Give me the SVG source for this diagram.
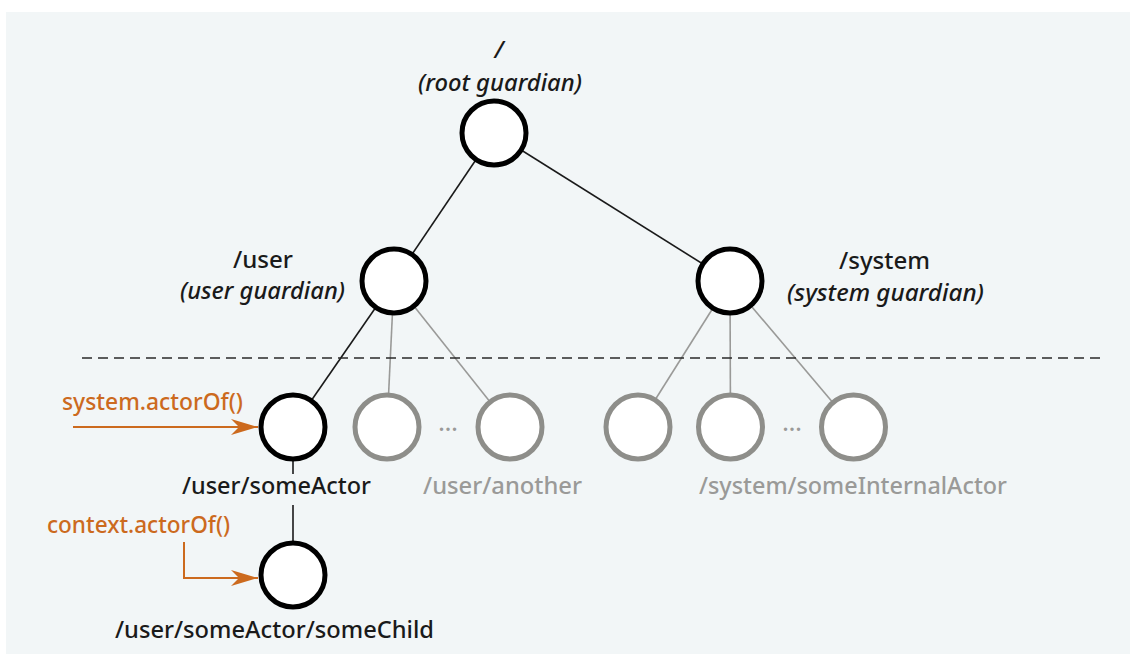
<svg xmlns="http://www.w3.org/2000/svg" width="1130" height="654" viewBox="0 0 1130 654">
<style>
.t{font-family:"Noto Sans","Liberation Sans",sans-serif;font-size:24px;font-weight:500;fill:#1a1a1a}
.i{font-style:italic}
.g{fill:#9a9a98}
.o{fill:#cc6a1e}
.n{fill:#fff;stroke:#000;stroke-width:5}
.ng{fill:#fff;stroke:#8e8e8a;stroke-width:5}
.lb{stroke:#1a1a1a;stroke-width:1.6;fill:none}
.lg{stroke:#9a9a98;stroke-width:1.6;fill:none}
.or{stroke:#cc6a1e;stroke-width:2;fill:none}
</style>
<defs>
<marker id="ah" viewBox="0 0 27 16" markerWidth="27" markerHeight="16" refX="27" refY="8" markerUnits="userSpaceOnUse" orient="auto">
<path d="M0,0 L27,8 L0,16 L8,8 z" fill="#cc6a1e"/>
</marker>
</defs>
<rect x="0" y="0" width="1130" height="654" fill="#fff"/>
<rect x="6" y="12" width="1124" height="642" fill="#f2f6f7"/>
<g id="connectors">
<line class="lb" x1="494" y1="133" x2="394" y2="281"/>
<line class="lb" x1="494" y1="133" x2="730" y2="281"/>
<line class="lb" x1="394" y1="281" x2="293" y2="427"/>
<line class="lg" x1="394" y1="281" x2="387" y2="427"/>
<line class="lg" x1="394" y1="281" x2="510" y2="427"/>
<line class="lg" x1="730" y1="281" x2="638" y2="427"/>
<line class="lg" x1="730" y1="281" x2="730.5" y2="427"/>
<line class="lg" x1="730" y1="281" x2="853.5" y2="427"/>
<line class="lb" x1="293" y1="460" x2="293" y2="474"/>
<line class="lb" x1="293" y1="505" x2="293" y2="545"/>
<line x1="82" y1="358" x2="1106" y2="358" stroke="#2a2a2a" stroke-width="1.5" stroke-dasharray="10 6"/>
<line class="or" x1="73" y1="427" x2="258" y2="427" marker-end="url(#ah)"/>
<path class="or" d="M184,542 V578 H258" marker-end="url(#ah)"/>
</g>
<g id="root">
<circle class="n" cx="494" cy="133" r="32"/>
<text class="t i" x="499" y="58" text-anchor="middle" font-size="22">/</text>
<text class="t i" x="418" y="91" textLength="164" lengthAdjust="spacingAndGlyphs">(root guardian)</text>
</g>
<g id="user">
<circle class="n" cx="394" cy="281" r="32"/>
<text class="t" x="233" y="268" textLength="60" lengthAdjust="spacingAndGlyphs">/user</text>
<text class="t i" x="180" y="299" textLength="165" lengthAdjust="spacingAndGlyphs">(user guardian)</text>
</g>
<g id="system">
<circle class="n" cx="730" cy="281" r="32"/>
<text class="t" x="839" y="269" textLength="91" lengthAdjust="spacingAndGlyphs">/system</text>
<text class="t i" x="787" y="301" textLength="197" lengthAdjust="spacingAndGlyphs">(system guardian)</text>
</g>
<g id="someActor">
<circle class="n" cx="293" cy="427" r="32"/>
<text class="t" x="182" y="494" textLength="189" lengthAdjust="spacingAndGlyphs">/user/someActor</text>
</g>
<g id="userChildren">
<circle class="ng" cx="387" cy="427" r="32"/>
<circle class="ng" cx="510" cy="427" r="32"/>
<text class="t g" x="448" y="431" text-anchor="middle" font-size="16" font-weight="400">...</text>
<text class="t g" x="423" y="494" font-weight="400" textLength="159" lengthAdjust="spacingAndGlyphs">/user/another</text>
</g>
<g id="systemChildren">
<circle class="ng" cx="638" cy="427" r="32"/>
<circle class="ng" cx="730.5" cy="427" r="32"/>
<circle class="ng" cx="853.5" cy="427" r="32"/>
<text class="t g" x="792" y="431" text-anchor="middle" font-size="16" font-weight="400">...</text>
<text class="t g" x="699" y="494" font-weight="400" textLength="308" lengthAdjust="spacingAndGlyphs">/system/someInternalActor</text>
</g>
<g id="someChild">
<circle class="n" cx="293" cy="575" r="32"/>
<text class="t" x="115" y="638" textLength="319" lengthAdjust="spacingAndGlyphs">/user/someActor/someChild</text>
</g>
<g id="systemActorOf">
<text class="t o" x="62" y="410" textLength="181" lengthAdjust="spacingAndGlyphs">system.actorOf()</text>
</g>
<g id="contextActorOf">
<text class="t o" x="47" y="533" textLength="183" lengthAdjust="spacingAndGlyphs">context.actorOf()</text>
</g>
</svg>
